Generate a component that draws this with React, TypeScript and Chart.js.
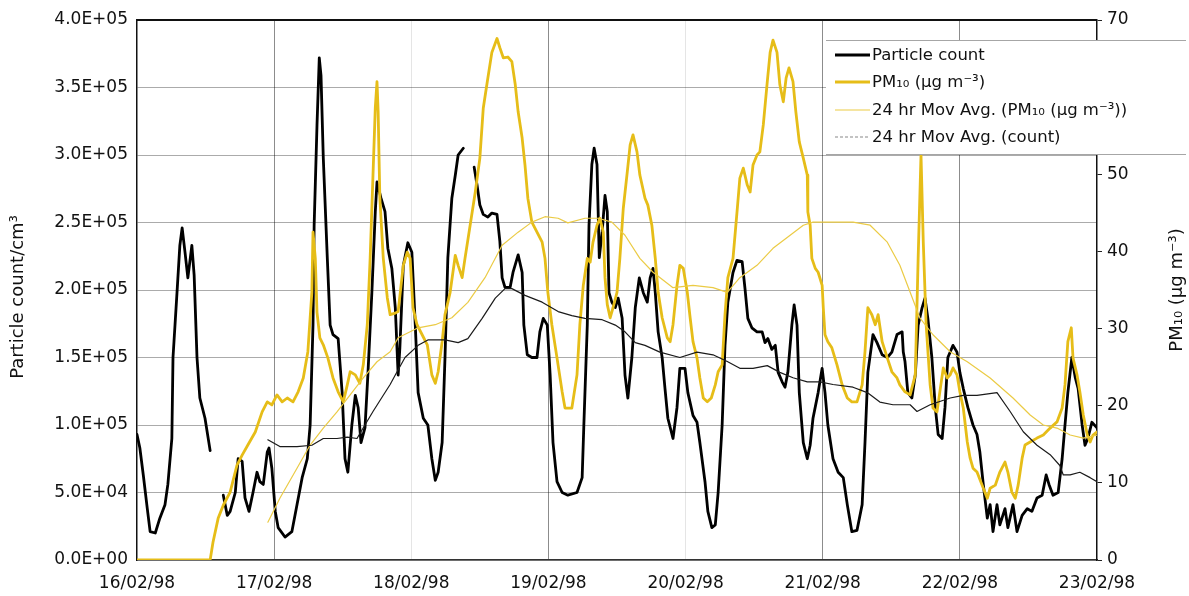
import React, { useEffect, useRef } from 'react';
import { Chart, registerables } from 'chart.js';

Chart.register(...registerables);

// Day labels on the time axis (one tick every 24 h from 16/02/98 00:00)
const dayLabels = ['16/02/98', '17/02/98', '18/02/98', '19/02/98', '20/02/98', '21/02/98', '22/02/98', '23/02/98'];

// Particle count (per cm3), time in hours from 16/02/98 00:00; null = no data
const countHours = [
  0.0, 0.5, 1.1, 1.8, 2.3, 3.2, 4.0, 4.9, 5.4, 6.1, 6.3, 7.0, 7.5, 7.9, 8.4, 8.9, 9.6, 10.0, 10.5, 11.0, 11.9, 12.8,
  14.0,
  15.1, 15.8, 16.3, 17.2, 17.7, 18.4, 18.9, 19.6, 20.3, 21.0, 21.5, 22.1, 22.8, 23.1, 23.6, 24.2, 24.7, 25.9, 27.1, 28.0,
  28.9, 29.8, 30.3, 30.8, 31.0, 31.5, 31.9, 32.2, 32.6, 33.3, 33.8, 34.3, 35.2, 35.9, 36.4, 36.9, 37.6, 38.2, 38.7, 39.2,
  39.9, 40.4, 41.1, 41.7, 42.0, 42.7, 43.4, 43.9, 44.6, 45.2, 45.7, 46.0, 46.6, 47.4, 48.1, 48.7, 49.2, 50.1, 50.9, 51.6,
  52.2, 52.7, 53.4, 53.9, 54.4, 55.1, 55.7, 56.2, 57.1,
  58.0,
  59.0, 59.5, 60.0, 60.6, 61.4, 62.1, 63.0, 63.5, 63.9, 64.4, 65.3, 65.8, 66.7, 67.4, 67.7, 68.3, 69.1, 70.0, 70.5, 71.1,
  71.8, 72.3, 72.8, 73.5, 74.4, 75.4, 77.0, 77.9, 78.2, 78.8, 79.1, 79.6, 80.0, 80.5, 80.9, 81.4, 81.9, 82.3, 82.6, 83.1,
  83.7, 84.2, 84.9, 85.4, 85.9, 86.6, 87.2, 87.9, 88.6, 89.3, 89.8, 90.3, 90.7, 91.2, 91.9, 92.4, 92.9, 93.8, 94.5, 95.0,
  95.9, 96.4, 97.3, 98.0, 98.5, 99.4, 99.9, 100.6, 101.2, 101.7, 102.4, 102.9, 103.4, 104.3, 105.0, 105.9, 106.4, 106.9,
  107.6, 108.5, 109.4, 109.9, 110.4, 111.1, 111.7, 112.2, 112.9, 113.4, 113.9, 114.6, 115.0, 115.5, 115.9, 116.6, 117.3,
  117.8, 118.3, 119.2, 119.9, 120.4, 120.9, 121.8, 122.7, 123.6, 124.3, 125.1, 126.0, 126.9, 127.4, 127.9, 128.8, 129.5,
  130.4, 131.3, 132.1, 133.0, 133.9, 134.1, 134.4, 134.9, 135.6, 136.2, 136.7, 137.4, 137.9, 138.4, 139.1, 139.7, 140.2,
  140.9, 141.4, 141.9, 142.8, 143.5, 144.0, 144.6, 145.4, 146.3, 147.0, 147.5, 148.1, 148.8, 149.3, 149.8, 150.5, 151.0,
  151.9, 152.4, 153.3, 154.0, 154.9, 155.8, 156.6, 157.5, 158.4, 159.1, 159.6, 160.3, 161.2, 161.9, 162.4, 162.9, 163.6,
  164.2, 164.7, 165.4, 165.9, 166.4, 167.1, 168.0,
];
const countValues = [
  93000, 83000, 63000, 38000, 21000, 20000, 31000, 41000, 56000, 90000, 150000, 198000, 233000, 246000, 228000, 209000,
  233000, 211000, 150000, 120000, 105000, 81000,
  null,
  48000, 33000, 36000, 50000, 75000, 73000, 46000, 36000, 50000, 65000, 58000, 56000, 80000, 83000, 68000, 36000, 24000,
  17000, 21000, 41000, 61000, 75000, 100000, 174000, 248000, 322000, 372000, 359000, 298000, 224000, 174000, 167000,
  164000, 124000, 75000, 65000, 100000, 122000, 113000, 87000, 98000, 137000, 198000, 258000, 280000, 268000, 258000,
  231000, 216000, 187000, 137000, 157000, 218000, 235000, 228000, 174000, 124000, 105000, 100000, 75000, 59000, 65000,
  87000, 150000, 224000, 268000, 285000, 300000, 305000,
  null,
  291000, 278000, 263000, 256000, 254000, 257000, 256000, 236000, 209000, 202000, 202000, 213000, 226000, 213000, 174000,
  152000, 150000, 150000, 169000, 179000, 174000, 137000, 87000, 58000, 50000, 48000, 50000, 61000, 100000, 174000,
  248000, 293000, 305000, 293000, 224000, 243000, 270000, 258000, 198000, 191000, 187000, 194000, 179000, 137000, 120000,
  150000, 187000, 209000, 198000, 191000, 209000, 216000, 198000, 169000, 150000, 127000, 105000, 90000, 113000, 142000,
  142000, 124000, 107000, 102000, 87000, 58000, 36000, 24000, 26000, 50000, 100000, 159000, 191000, 213000, 222000,
  221000, 201000, 179000, 172000, 169000, 169000, 161000, 164000, 156000, 159000, 139000, 132000, 128000, 139000, 174000,
  189000, 174000, 124000, 87000, 75000, 85000, 105000, 124000, 142000, 124000, 100000, 75000, 65000, 61000, 41000, 21000,
  22000, 41000, 87000, 139000, 167000, 161000, 152000, 150000, 154000, 167000, 169000, 154000, 147000, 124000, 120000,
  137000, 174000, 187000, 194000, 179000, 150000, 113000, 93000, 90000, 113000, 150000, 159000, 154000, 139000, 127000,
  113000, 100000, 93000, 80000, 56000, 31000, 41000, 21000, 41000, 26000, 38000, 24000, 41000, 21000, 33000, 38000,
  36000, 46000, 48000, 63000, 56000, 48000, 50000, 75000, 100000, 124000, 150000, 135000, 127000, 100000, 85000, 90000,
  102000, 98000,
];

// PM10 (ug m-3)
const pmHours = [
  0.0, 12.8, 13.3, 14.2, 15.1, 16.3, 17.5, 18.4, 19.4, 20.7, 21.9, 22.8, 23.6, 24.5, 25.4, 26.3, 27.3, 28.2, 29.1, 29.9,
  30.6, 30.8, 31.2, 31.5, 32.0, 32.6, 33.4, 34.3, 35.2, 36.1, 36.8, 37.3, 38.2, 39.0, 39.6, 40.3, 40.8, 41.3, 41.7, 42.0,
  42.2, 42.5, 43.1, 43.8, 44.3, 45.2, 45.7, 46.6, 47.3, 47.8, 48.3, 49.0, 49.9, 50.8, 51.6, 52.2, 52.7, 53.4, 53.9, 54.8,
  55.7, 56.2, 56.9, 57.4, 58.3, 59.2, 60.0, 60.6, 61.3, 62.1, 63.0, 63.5, 64.1, 64.9, 65.6, 66.2, 66.7, 67.4, 67.9, 68.4,
  69.1, 70.0, 70.9, 71.4, 71.9, 72.6, 73.5, 74.4, 74.9, 76.1, 77.0, 77.5, 78.1, 78.8, 79.3, 79.8, 80.5, 81.0, 81.6, 81.9,
  82.3, 82.8, 83.3, 84.0, 84.5, 85.1, 85.8, 86.3, 86.8, 87.5, 88.0, 88.9, 89.4, 90.1, 90.7, 91.2, 91.9, 92.8, 93.3, 93.8,
  94.5, 95.0, 95.6, 96.3, 96.8, 97.3, 98.0, 98.5, 99.1, 99.8, 100.5, 101.2, 101.7, 102.4, 102.9, 103.4, 104.3, 105.0,
  105.5, 106.1, 106.8, 107.3, 107.8, 108.5, 109.0, 109.6, 110.3, 110.8, 111.3, 112.0, 112.5, 113.1, 113.6, 114.1, 114.8,
  115.3, 115.9, 116.6, 117.3, 117.4, 117.8, 118.1, 118.7, 119.2, 119.9, 120.1, 120.4, 120.9, 121.6, 122.5, 123.4, 124.3,
  125.1, 126.0, 126.9, 127.4, 127.9, 128.6, 129.2, 129.7, 130.4, 131.3, 132.1, 133.0, 133.5, 134.4, 135.3, 136.2, 136.7,
  137.2, 137.6, 138.1, 138.8, 139.3, 140.0, 140.5, 141.1, 141.8, 142.3, 142.8, 143.5, 144.0, 144.6, 145.3, 145.8, 146.3,
  147.0, 147.9, 148.8, 149.3, 150.2, 151.0, 151.9, 152.4, 153.1, 153.7, 154.2, 154.9, 155.4, 156.3, 157.5, 158.6, 159.8,
  161.0, 161.9, 162.4, 162.9, 163.5, 163.8, 164.5, 165.0, 165.6, 166.3, 166.8, 167.3, 168.0,
];
const pmValues = [
  0, 0, 2.3, 5.4, 7.1, 8.8, 12.3, 13.6, 14.9, 16.6, 19.2, 20.5, 20.1, 21.4, 20.5, 21.0, 20.5, 21.8, 23.6, 27.0,
  34.7, 42.5, 39.1, 32.1, 28.8, 27.9, 26.2, 23.6, 21.8, 20.5, 22.7, 24.4, 24.0, 22.9, 25.3, 30.5, 39.1, 49.9, 58.6, 62.0,
  58.1, 46.9, 39.1, 34.0, 31.8, 32.0, 32.2, 38.2, 39.9, 39.1, 32.7, 30.5, 29.2, 27.9, 24.0, 22.9, 24.4, 28.3, 31.8, 34.7,
  39.5, 38.2, 36.6, 39.1, 43.4, 47.7, 52.1, 58.6, 62.0, 65.8, 67.6, 66.4, 65.1, 65.2, 64.6, 61.6, 58.1, 54.7, 51.2, 46.9,
  43.8, 42.5, 41.2, 39.1, 34.7, 30.5, 26.2, 21.8, 19.7, 19.7, 24.0, 30.5, 35.6, 39.1, 38.6, 41.2, 43.4, 44.3, 42.5, 36.6,
  33.1, 31.4, 32.7, 34.7, 39.1, 45.6, 50.3, 53.8, 55.1, 52.9, 49.9, 46.9, 46.0, 43.4, 39.1, 34.7, 31.4, 28.8, 28.3, 30.5,
  35.6, 38.2, 37.8, 34.7, 31.4, 28.3, 26.2, 23.6, 21.0, 20.5, 21.0, 22.7, 24.4, 25.3, 31.8, 36.6, 39.1, 45.1,
  49.5, 50.8, 48.6, 47.7, 51.2, 52.5, 52.9, 56.4, 62.0, 65.8, 67.4, 65.8, 61.6, 59.4, 62.5, 63.8, 62.0,
  58.1, 54.2, 52.1, 49.9, 45.1, 43.4, 39.1, 37.8, 37.3, 35.6, 32.7, 29.2, 28.3, 27.5, 25.3, 22.7, 21.0,
  20.5, 20.5, 22.7, 27.0, 32.7, 31.8, 30.5, 31.8, 28.3, 26.2, 24.4, 23.6, 22.7, 21.8, 21.4, 24.0, 39.1,
  52.5, 41.2, 30.5, 22.7, 19.7, 19.2, 21.8, 24.9, 23.6, 24.0, 24.9, 24.0, 21.8, 19.7, 15.3, 13.2, 11.9,
  11.4, 9.7, 8.0, 9.3, 9.7, 11.4, 12.7, 11.4, 8.8, 8.0, 9.7, 13.2, 14.9, 15.3, 15.8, 16.2, 17.1,
  17.9, 19.7, 22.7, 28.3, 30.1, 26.2, 24.0, 21.8, 18.8, 16.2, 15.3, 16.2, 16.6,
];

// 24 hr moving average of PM10
const pmAvgHours = [
  22.9, 25.0, 28.0, 30.3, 32.6, 35.0, 37.3, 39.6, 42.0, 44.3, 45.7, 49.2, 52.2, 55.1, 57.9, 60.9, 63.9, 66.7, 69.1, 71.4,
  73.7, 75.4, 78.4, 80.7, 83.1, 85.4, 88.0, 90.3, 93.8, 97.3, 100.8, 103.3, 105.5, 108.5, 111.3, 114.3, 116.6, 118.3,
  121.8, 125.3, 128.3, 131.3, 133.5, 135.3, 137.0, 139.3, 142.3, 145.3, 149.3, 153.3, 156.3, 158.6, 161.0, 163.3, 165.6,
  168.0,
];
const pmAvgValues = [
  4.9, 8.0, 11.9, 14.9, 17.1, 19.2, 21.4, 23.6, 25.7, 27.0, 28.8, 30.1, 30.5, 31.4, 33.4, 36.6, 40.8, 42.5, 43.8, 44.5,
  44.3, 43.7, 44.3, 44.3, 43.8, 42.1, 39.1, 37.3, 35.3, 35.6, 35.3, 34.7, 36.6, 38.2, 40.4, 42.1, 43.4, 43.8,
  43.8, 43.8, 43.4, 41.2, 38.2, 34.7, 31.4, 29.2, 27.0, 25.7, 23.6, 21.0, 18.8, 17.5, 17.1, 16.2, 15.8,
  16.2,
];

// 24 hr moving average of particle count
const countAvgHours = [
  22.9, 25.0, 28.0, 30.6, 32.6, 35.0, 36.8, 38.5, 39.6, 41.3, 43.1, 44.3, 45.2, 46.9, 49.2, 50.9, 53.9, 56.2, 57.9, 60.4,
  62.7, 64.4, 65.6, 67.9, 70.9, 73.7, 76.1, 78.4, 81.4, 83.7, 85.4, 87.2, 88.9, 91.5, 95.0, 98.0, 100.8, 103.3, 105.5,
  107.8, 110.3, 112.5, 114.8, 117.3, 119.5, 121.8, 125.3, 127.8, 130.0, 132.3, 135.3, 136.5, 138.8, 142.3, 144.6, 147.0,
  150.5, 152.8, 155.1, 157.5, 159.8, 161.5, 162.1, 163.3, 165.0, 166.8, 168.0,
];
const countAvgValues = [
  89000, 84000, 84000, 85000, 90000, 90000, 91000, 90000, 98000, 110000, 122000, 130000, 137000, 150000, 159000, 163000,
  163000, 161000, 164000, 179000, 194000, 201000, 201000, 196000, 191000, 184000, 181000, 179000, 178000, 174000, 169000,
  161000, 159000, 154000, 150000, 154000, 152000, 147000, 142000, 142000, 144000, 139000, 135000, 132000, 132000, 130000,
  128000, 124000, 117000, 115000, 115000, 110000, 115000, 120000, 122000, 122000, 124000, 110000, 95000, 85000, 78000,
  70000, 63000, 63000, 65000, 61000, 58000,
];

const PM_COLOR = '#E6BD18';
const PM_AVG_COLOR = '#EBCB45';
const FONT = '"DejaVu Sans", "Liberation Sans", sans-serif';

const toPoints = (xs: number[], ys: (number | null)[]) => xs.map((x, i) => ({ x, y: ys[i] }));

const sciLabel = (v: number) => {
  const [mant, exp] = v.toExponential(1).split('e');
  const sign = exp[0];
  const digits = exp.slice(1).padStart(2, '0');
  return `${mant}E${sign}${digits}`;
};

// Plot frame top edge, axis titles and the boxed legend
const decorPlugin = {
  id: 'decor',
  afterDraw(chart: any) {
    const { ctx, chartArea } = chart;
    ctx.save();

    ctx.strokeStyle = '#111';
    ctx.lineWidth = 2;
    ctx.beginPath();
    ctx.moveTo(chartArea.left, chartArea.top);
    ctx.lineTo(chartArea.right, chartArea.top);
    ctx.stroke();

    ctx.fillStyle = '#111';
    ctx.font = `18px ${FONT}`;
    ctx.textAlign = 'center';
    ctx.textBaseline = 'middle';

    ctx.save();
    ctx.translate(18, 297);
    ctx.rotate(-Math.PI / 2);
    ctx.fillText('Particle count/cm³', 0, 0);
    ctx.restore();

    ctx.save();
    ctx.translate(1177, 290);
    ctx.rotate(-Math.PI / 2);
    ctx.fillText('PM₁₀ (µg m⁻³)', 0, 0);
    ctx.restore();

    // legend box
    const bx0 = 826, by0 = 40, bx1 = 1186, by1 = 155;
    ctx.fillStyle = '#fff';
    ctx.fillRect(bx0, by0, bx1 - bx0, by1 - by0);
    ctx.strokeStyle = 'rgba(0,0,0,0.35)';
    ctx.lineWidth = 1;
    ctx.beginPath();
    ctx.moveTo(bx0, by0 + 0.5);
    ctx.lineTo(bx1, by0 + 0.5);
    ctx.moveTo(bx0, by1 - 0.5);
    ctx.lineTo(bx1, by1 - 0.5);
    ctx.stroke();

    const rows = [55, 82, 110, 137];
    ctx.font = `16.5px ${FONT}`;
    ctx.textAlign = 'left';
    ctx.textBaseline = 'middle';
    chart.data.datasets.forEach((ds: any, r: number) => {
      const y = rows[r];
      ctx.save();
      ctx.strokeStyle = ds.legendColor || ds.borderColor;
      ctx.lineWidth = ds.borderWidth;
      ctx.setLineDash(ds.legendDash || []);
      ctx.beginPath();
      ctx.moveTo(835, y);
      ctx.lineTo(870, y);
      ctx.stroke();
      ctx.restore();
      ctx.fillStyle = '#111';
      ctx.fillText(ds.label, 872, y + 1);
    });

    ctx.restore();
  },
};

export default function App() {
  const canvasRef = useRef<HTMLCanvasElement | null>(null);

  useEffect(() => {
    const canvas = canvasRef.current;
    if (!canvas) return;

    const chart = new Chart(canvas, {
      type: 'line',
      data: {
        datasets: [
          {
            label: 'Particle count',
            data: toPoints(countHours, countValues),
            borderColor: '#000',
            borderWidth: 2.8,
            yAxisID: 'y',
            order: 4,
          } as any,
          {
            label: 'PM₁₀ (µg m⁻³)',
            data: toPoints(pmHours, pmValues),
            borderColor: PM_COLOR,
            borderWidth: 2.8,
            yAxisID: 'y1',
            order: 3,
          },
          {
            label: '24 hr Mov Avg. (PM₁₀ (µg m⁻³))',
            data: toPoints(pmAvgHours, pmAvgValues),
            borderColor: PM_AVG_COLOR,
            borderWidth: 1.2,
            yAxisID: 'y1',
            order: 2,
          },
          {
            label: '24 hr Mov Avg. (count)',
            data: toPoints(countAvgHours, countAvgValues),
            borderColor: '#1a1a1a',
            borderWidth: 1.2,
            legendColor: '#888',
            legendDash: [3, 2],
            yAxisID: 'y',
            order: 1,
          },
        ],
      },
      options: {
        responsive: false,
        animation: false,
        layout: { padding: { top: 20, right: 0, bottom: 0, left: 0 } },
        elements: {
          point: { radius: 0, hoverRadius: 0 },
          line: { tension: 0, fill: false, borderJoinStyle: 'round', borderCapStyle: 'round' },
        },
        plugins: {
          legend: { display: false },
          tooltip: { enabled: false },
        },
        scales: {
          x: {
            type: 'linear',
            min: 0,
            max: 168,
            afterFit: (s: any) => {
              s.height = 36;
            },
            ticks: {
              stepSize: 24,
              autoSkip: false,
              maxRotation: 0,
              padding: 13,
              color: '#111',
              font: { family: FONT, size: 17 },
              callback: (v: any) => dayLabels[Math.round(Number(v) / 24)] ?? '',
            },
            grid: {
              drawTicks: false,
              lineWidth: 1,
              color: (c: any) => {
                const i = c.index;
                if (i === 0 || i === 7) return 'rgba(0,0,0,0)';
                if (i === 2 || i === 4) return 'rgba(0,0,0,0.1)';
                return 'rgba(0,0,0,0.45)';
              },
            },
            border: { display: true, color: '#333', width: 1.5 },
          },
          y: {
            position: 'left',
            min: 0,
            max: 400000,
            afterFit: (s: any) => {
              s.width = 137;
            },
            ticks: {
              stepSize: 50000,
              padding: 9,
              color: '#111',
              font: { family: FONT, size: 17 },
              callback: (v: any) => sciLabel(Number(v)),
            },
            grid: {
              drawTicks: false,
              lineWidth: 1,
              color: (c: any) => (c.index === 8 ? 'rgba(0,0,0,0)' : 'rgba(0,0,0,0.33)'),
            },
            border: { display: true, color: '#111', width: 1.5 },
          },
          y1: {
            position: 'right',
            min: 0,
            max: 70,
            afterFit: (s: any) => {
              s.width = 92;
            },
            ticks: {
              stepSize: 10,
              padding: 5,
              color: '#111',
              font: { family: FONT, size: 17 },
            },
            grid: {
              drawOnChartArea: false,
              drawTicks: true,
              tickLength: 5,
              color: '#222',
            },
            border: { display: true, color: '#111', width: 1.5 },
          },
        },
      },
      plugins: [decorPlugin],
    });

    return () => chart.destroy();
  }, []);

  return (
    <div style={{ position: 'absolute', left: 0, top: 0, width: 1189, height: 596, background: '#fff' }}>
      <canvas ref={canvasRef} width={1189} height={596} style={{ display: 'block', width: 1189, height: 596 }} />
    </div>
  );
}
